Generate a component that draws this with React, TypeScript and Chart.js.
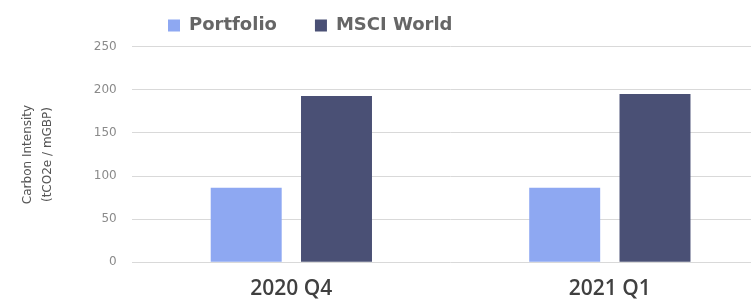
import React, { useEffect, useRef } from "react";
import { Chart, registerables } from "chart.js";

Chart.register(...registerables);

const categories = ["2020 Q4", "2021 Q1"];
const portfolioValues = [86.5, 86.5];
const msciWorldValues = [192.8, 195.2];
const seriesNames = ["Portfolio", "MSCI World"];
const yTitleLines = ["Carbon Intensity", "(tCO2e / mGBP)"];
const yMin = 0;
const yMax = 250;
const yStep = 50;

const legendMover = {
  id: "legendMover",
  afterLayout(chart: any) {
    const lg = chart.legend;
    if (lg) {
      lg.left = 130;
      lg.top = -21.5;
    }
  },
};

export default function App() {
  const ref = useRef<HTMLCanvasElement | null>(null);

  useEffect(() => {
    if (!ref.current) return;
    const chart = new Chart(ref.current, {
      type: "bar",
      data: {
        labels: categories,
        datasets: [
          {
            label: seriesNames[0],
            data: portfolioValues,
            backgroundColor: "#8EA8F2",
            borderWidth: 0,
            categoryPercentage: 0.567,
            barPercentage: 0.786,
          },
          {
            label: seriesNames[1],
            data: msciWorldValues,
            backgroundColor: "#4A5075",
            borderWidth: 0,
            categoryPercentage: 0.567,
            barPercentage: 0.786,
          },
        ],
      },
      options: {
        responsive: false,
        animation: false,
        devicePixelRatio: 1,
        layout: { padding: { left: 14, right: 30.9, top: -19.3, bottom: 0 } },
        plugins: {
          legend: {
            display: true,
            position: "top",
            align: "start",
            labels: {
              boxWidth: 12,
              boxHeight: 12,
              padding: 38,
              color: "#666666",
              font: { family: "DejaVu Sans", size: 18, weight: "bold" },
            },
          },
          title: { display: false },
          tooltip: { enabled: false },
        },
        scales: {
          x: {
            grid: { display: false },
            border: { display: false },
            ticks: {
              color: "#404040",
              padding: 6,
              font: { family: "Open Sans", size: 21, weight: "600" },
            },
            afterFit: (scale: any) => {
              scale.height = 36.7;
            },
          },
          y: {
            min: yMin,
            max: yMax,
            ticks: {
              stepSize: yStep,
              color: "#8a8a8a",
              padding: 15.4,
              font: { family: "DejaVu Sans", size: 12 },
            },
            grid: { color: "#d9d9d9", drawTicks: false, lineWidth: 1 },
            border: { display: false },
            title: {
              display: true,
              text: yTitleLines,
              color: "#555555",
              padding: { top: 4, bottom: 4 },
              font: { family: "DejaVu Sans", size: 12, lineHeight: 1.65 },
            },
            afterFit: (scale: any) => {
              scale.width = 118.1;
            },
          },
        },
      },
      plugins: [legendMover],
    });
    return () => chart.destroy();
  }, []);

  return (
    <div
      style={{
        position: "fixed",
        left: 0,
        top: 0,
        width: 751,
        height: 299,
        overflow: "hidden",
        background: "#ffffff",
      }}
    >
      <canvas ref={ref} width={800} height={299} style={{ display: "block" }} />
    </div>
  );
}
